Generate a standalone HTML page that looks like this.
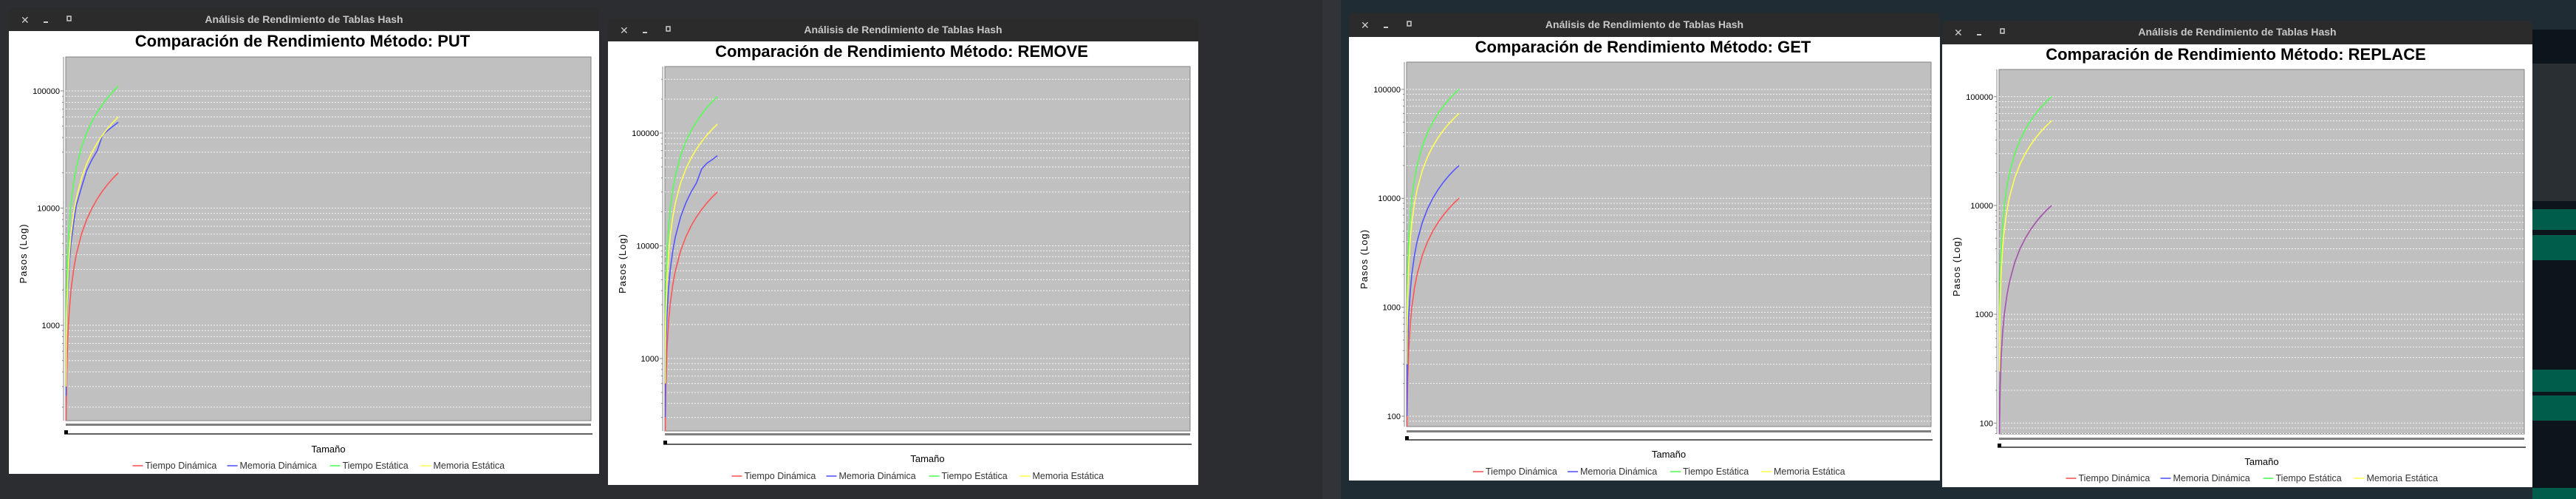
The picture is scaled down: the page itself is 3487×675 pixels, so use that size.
<!DOCTYPE html>
<html><head><meta charset="utf-8"><style>
html,body{margin:0;padding:0;background:#2b2d30;overflow:hidden}
svg{display:block}
text{font-family:"Liberation Sans",sans-serif}
</style></head><body>
<svg id="s" width="3487" height="675" viewBox="0 0 3487 675" xmlns="http://www.w3.org/2000/svg">
<defs id="defs"></defs>
<rect x="0" y="0" width="1815" height="675" fill="#2b2d30"/>
<rect x="1790" y="0" width="25" height="675" fill="#313338"/>
<rect x="1815" y="0" width="1672" height="675" fill="#1f2c33"/>
<rect x="3428" y="40" width="59" height="635" fill="#0c151b"/>
<rect x="3428" y="86" width="59" height="186" fill="#2a2f33"/>
<rect x="3428" y="283" width="59" height="28" fill="#005c4b"/>
<rect x="3428" y="318" width="59" height="34" fill="#005c4b"/>
<rect x="3428" y="500" width="59" height="30" fill="#005c4b"/>
<rect x="3428" y="535" width="59" height="34" fill="#005c4b"/>
<rect x="3428" y="660" width="59" height="15" fill="#005c4b"/>
<g id="charts"></g>
</svg>
<script>
// shared x categories (table sizes)
const sizes = [50,100,200,400,700,1000,1500,2000,3000,4000,5000,6000,7000,8000,9000,10000];
const seriesNames = ["Tiempo Dinámica","Memoria Dinámica","Tiempo Estática","Memoria Estática"];
// PUT
const putTiempoDin = [100,200,400,800,1400,2000,3000,4000,6000,8000,10000,12000,14000,16000,18000,20000];
const putMemoriaDin = [250,500,1000,2000,3500,5000,7500,10500,15000,21000,26000,31000,42000,46000,50000,54000];
const putTiempoEst = [550,1100,2200,4400,7700,11000,16500,22000,33000,44000,55000,66000,77000,88000,99000,110000];
const putMemoriaEst = [300,600,1200,2400,4200,6000,9000,12000,18000,24000,30000,36000,42000,48000,54000,60000];
// REMOVE
const remTiempoDin = [150,300,600,1200,2100,3000,4500,6000,9000,12000,15000,18000,21000,24000,27000,30000];
const remMemoriaDin = [300,600,1200,2400,4200,6000,9000,12000,18000,24000,30000,36000,48000,54000,58000,63000];
const remTiempoEst = [1050,2100,4200,8400,14700,21000,31500,42000,63000,84000,105000,126000,147000,168000,189000,210000];
const remMemoriaEst = [600,1200,2400,4800,8400,12000,18000,24000,36000,48000,60000,72000,84000,96000,108000,120000];
// GET
const getTiempoDin = [50,100,200,400,700,1000,1500,2000,3000,4000,5000,6000,7000,8000,9000,10000];
const getMemoriaDin = [100,200,400,800,1400,2000,3000,4000,6000,8000,10000,12000,14000,16000,18000,20000];
const getTiempoEst = [500,1000,2000,4000,7000,10000,15000,20000,30000,40000,50000,60000,70000,80000,90000,100000];
const getMemoriaEst = [300,600,1200,2400,4200,6000,9000,12000,18000,24000,30000,36000,42000,48000,54000,60000];
// REPLACE
const repTiempoDin = [50,100,200,400,700,1000,1500,2000,3000,4000,5000,6000,7000,8000,9000,10000];
const repMemoriaDin = [50,100,200,400,700,1000,1500,2000,3000,4000,5000,6000,7000,8000,9000,10000];
const repTiempoEst = [500,1000,2000,4000,7000,10000,15000,20000,30000,40000,50000,60000,70000,80000,90000,100000];
const repMemoriaEst = [300,600,1200,2400,4200,6000,9000,12000,18000,24000,30000,36000,42000,48000,54000,60000];
const xMax = 100000;

const NS="http://www.w3.org/2000/svg";
const root=document.getElementById('charts');
const defs=document.getElementById('defs');
function mk(tag,attrs,parent){const e=document.createElementNS(NS,tag);for(const k in attrs)e.setAttribute(k,attrs[k]);(parent||root).appendChild(e);return e;}
const colors=["#ff5555","#5555ff","#55ff55","#ffff55"];

const charts=[
 {m:"PUT",wx:12,wy:11,ww:799,wb:641,th:31,px:89,py:77,pw:711,ph:492,lmin:2.186,lmax:5.29,tickMin:3,tamY:612,legY:634,barY:573,lineY:587,titleY:63,data:[putTiempoDin,putMemoriaDin,putTiempoEst,putMemoriaEst]},
 {m:"REMOVE",wx:823,wy:25,ww:799,wb:656,th:31,px:900,py:90,pw:711,ph:493,lmin:2.357,lmax:5.59,tickMin:3,tamY:625,legY:648,barY:586,lineY:601,titleY:77,data:[remTiempoDin,remMemoriaDin,remTiempoEst,remMemoriaEst]},
 {m:"GET",wx:1826,wy:18,ww:800,wb:650,th:32,px:1904,py:84,pw:710,ph:493,lmin:1.905,lmax:5.25,tickMin:2,tamY:619,legY:642,barY:582,lineY:595,titleY:71,data:[getTiempoDin,getMemoriaDin,getTiempoEst,getMemoriaEst]},
 {m:"REPLACE",wx:2629,wy:28,ww:799,wb:659,th:32,px:2706,py:94,pw:711,ph:493,lmin:1.90,lmax:5.25,tickMin:2,tamY:629,legY:651,barY:592,lineY:605,titleY:81,data:[repTiempoDin,repMemoriaDin,repTiempoEst,repMemoriaEst]}
];

charts.forEach((c,ci)=>{
 const g=mk('g',{});
 
 
 const cp=mk('clipPath',{id:'clip'+ci},defs);
 mk('rect',{x:c.px,y:c.py,width:c.pw,height:c.ph},cp);
 const wr=mk('rect',{x:c.wx,y:c.wy,width:c.ww,height:c.th+6,rx:6,fill:'#2b2b2b'},g);
 
 
 const body=mk('rect',{x:c.wx,y:c.wy+c.th,width:c.ww,height:c.wb-c.wy-c.th,fill:'#ffffff'},g);
 
 
 const cx=mk('text',{x:c.wx+16,y:c.wy+21,fill:'#cccccc','font-size':14},g);cx.textContent='✕';
 
 
 const mn=mk('rect',{x:c.wx+47,y:c.wy+18,width:6,height:2,fill:'#cccccc'},g);
 
 
 const mx=mk('rect',{x:c.wx+79,y:c.wy+11,width:5,height:6,fill:'none',stroke:'#cccccc','stroke-width':1.5},g);
 
 
 const wt=mk('text',{x:c.wx+c.ww/2,y:c.wy+20,fill:'#c8c8c8','font-size':14,'font-weight':'bold','text-anchor':'middle'},g);
 wt.textContent='Análisis de Rendimiento de Tablas Hash';
 
 
 const ct=mk('text',{x:c.px+c.pw/2-35,y:c.titleY,fill:'#000','font-size':22,'font-weight':'bold','text-anchor':'middle'},g);
 ct.textContent='Comparación de Rendimiento Método: '+c.m;
 
 
 const pr=mk('rect',{x:c.px,y:c.py,width:c.pw,height:c.ph,fill:'#c0c0c0',stroke:'#808080','stroke-width':1},g);
 
 
 const X=n=>c.px+n/xMax*c.pw;
 const Y=v=>c.py+c.ph*(c.lmax-Math.log10(v))/(c.lmax-c.lmin);
 mk('line',{x1:c.px-3,y1:c.py,x2:c.px-3,y2:c.py+c.ph,stroke:'#888','stroke-width':1},g);
 for(let d=1;d<=5;d++){for(let k=1;k<=9;k++){const v=k*Math.pow(10,d);const lv=Math.log10(v);if(lv<c.lmin||lv>c.lmax)continue;const y=Y(v);
  const gl=mk('line',{x1:c.px,y1:y,x2:c.px+c.pw,y2:y,stroke:'#ffffff','stroke-width':1,'stroke-dasharray':'2,2','stroke-opacity':0.85},g);
  
  
  mk('line',{x1:c.px-(k==1?7:5),y1:y,x2:c.px-3,y2:y,stroke:'#888','stroke-width':1},g);
  if(k==1&&d>=c.tickMin){const t=mk('text',{x:c.px-8,y:y+4,'font-size':11,'text-anchor':'end',fill:'#000'},g);t.textContent=String(v);
   
   }
 }}
 const yl=mk('text',{x:0,y:0,'font-size':13,fill:'#000','text-anchor':'middle','letter-spacing':'1',transform:`translate(${c.px-53},${c.py+c.ph/2+20}) rotate(-90)`},g);
 yl.textContent='Pasos (Log)';
 
 
 const sb=mk('rect',{x:c.px,y:c.barY,width:c.pw,height:3,fill:'#808080'},g);
 
 
 mk('line',{x1:c.px-2,y1:c.lineY,x2:c.px+c.pw+2,y2:c.lineY,stroke:'#000','stroke-width':1.2},g);
 mk('rect',{x:c.px-2,y:c.lineY-5,width:5,height:5,fill:'#000'},g);
 const xt=mk('text',{x:c.px+c.pw/2,y:c.tamY,'font-size':13,'text-anchor':'middle',fill:'#000'},g);
 xt.textContent='Tamaño';
 
 
 const lines=mk('g',{'clip-path':'url(#clip'+ci+')'},g);
 c.data.forEach((arr,si)=>{
  const pts=arr.map((v,i)=>[X(sizes[i]),Y(v)]);
  const p=mk('polyline',{points:pts.map(q=>q[0].toFixed(1)+','+q[1].toFixed(1)).join(' '),fill:'none',stroke:colors[si],'stroke-width':1.6},lines);
  if(c.m==='REPLACE'&&si===1)p.setAttribute('stroke-opacity','0.55');
  
  
 });
 const widths=[0,128,267,390];
 const lx0=c.px+c.pw/2-265;
 seriesNames.forEach((nm,si)=>{
  const lg=mk('g',{},g);
  
  
  const x=lx0+widths[si];
  mk('line',{x1:x,y1:c.legY-4,x2:x+14,y2:c.legY-4,stroke:colors[si],'stroke-width':1.6},lg);
  const t=mk('text',{x:x+17,y:c.legY,'font-size':12.5,fill:'#333'},lg);t.textContent=nm;
 });
});
</script>
</body></html>
